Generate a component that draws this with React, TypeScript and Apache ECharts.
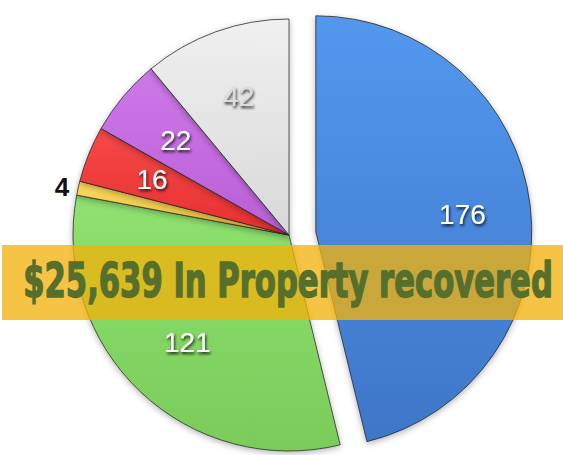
import React, { useEffect, useRef } from "react";
import * as echarts from "echarts";

const categories = ["A", "B", "C", "D", "E", "F"];
const values = [176, 121, 4, 16, 22, 42];
const topColors = ["#5298ee", "#8fe270", "#f9d860", "#f74848", "#cd78e8", "#f0f0f0"];
const bottomColors = ["#3f76c8", "#7acb5a", "#eec23a", "#e63030", "#b95fd6", "#d8d8d8"];
const labelColors = ["#ffffff", "#ffffff", "#111111", "#ffffff", "#ffffff", "#dcdcdc"];
const bannerText = "$25,639 In Property recovered";

export default function App() {
  const ref = useRef<HTMLDivElement>(null);
  useEffect(() => {
    if (!ref.current) return;
    const chart = echarts.init(ref.current, undefined, { renderer: "svg" });
    const center = [289, 235];
    const R = 216;
    const mainData = values.map((v, i) => ({
      name: categories[i],
      value: v,
      selected: i === 0,
      itemStyle: {
        color: new echarts.graphic.LinearGradient(0, 0, 0, 1, [
          { offset: 0, color: topColors[i] },
          { offset: 1, color: bottomColors[i] },
        ]),
      },
    }));
    const labelData = values.map((v, i) => ({
      name: categories[i],
      value: v,
      selected: i === 0,
      label:
        v < 10
          ? {
              position: "outside",
              color: labelColors[i],
              fontWeight: "bold",
              fontSize: 26,
              textShadowBlur: 0,
              textShadowOffsetX: 0,
              textShadowOffsetY: 0,
              textShadowColor: "transparent",
              distanceToLabelLine: 4,
            }
          : { color: labelColors[i] },
      labelLine: { show: false, length: 5, length2: 0 },
    }));
    chart.setOption({
      animation: false,
      backgroundColor: "#ffffff",
      series: [
        {
          type: "pie",
          center,
          radius: [0, R],
          startAngle: 90,
          clockwise: true,
          selectedMode: "single",
          selectedOffset: 27,
          silent: true,
          label: { show: false },
          labelLine: { show: false },
          itemStyle: {
            borderColor: "rgba(35,35,35,0.75)",
            borderWidth: 1,
            shadowBlur: 6,
            shadowColor: "rgba(0,0,0,0.3)",
            shadowOffsetY: 2,
          },
          data: mainData,
        },
        {
          type: "pie",
          center,
          radius: [R * 0.34, R],
          startAngle: 90,
          clockwise: true,
          selectedMode: "single",
          selectedOffset: 27,
          silent: true,
          avoidLabelOverlap: false,
          itemStyle: { color: "transparent", borderWidth: 0 },
          label: {
            show: true,
            position: "inside",
            formatter: "{c}",
            fontFamily: "Liberation Sans, Arial, sans-serif",
            fontSize: 28,
            textShadowColor: "rgba(0,0,0,0.85)",
            textShadowBlur: 3,
            textShadowOffsetX: 1,
            textShadowOffsetY: 2,
          },
          labelLine: { show: false },
          data: labelData,
        },
      ],
      graphic: [
        {
          type: "rect",
          z: 100,
          shape: { x: 2, y: 245, width: 561, height: 75 },
          style: { fill: "rgba(242,178,12,0.77)" },
          silent: true,
        },
        {
          type: "text",
          z: 101,
          x: 288,
          y: 280,
          scaleX: 0.71,
          originX: 0,
          style: {
            text: bannerText,
            fill: "#566f2c",
            stroke: "#566f2c",
            lineWidth: 1.4,
            font: "bold 48px 'DejaVu Sans Condensed', 'DejaVu Sans', sans-serif",
            align: "center",
            verticalAlign: "middle",
          },
          silent: true,
        },
      ],
    });
    return () => chart.dispose();
  }, []);
  return (
    <div
      ref={ref}
      style={{ position: "absolute", left: 0, top: 0, width: 563, height: 455 }}
    />
  );
}
